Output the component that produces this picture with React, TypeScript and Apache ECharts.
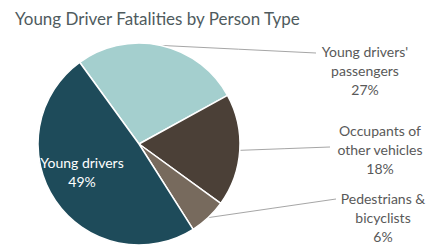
import React, { useEffect, useRef } from "react";
import * as echarts from "echarts";

const categories = [
  "Young drivers' passengers",
  "Occupants of other vehicles",
  "Pedestrians & bicyclists",
  "Young drivers",
];
const labelTexts = [
  "Young drivers'\npassengers",
  "Occupants of\nother vehicles",
  "Pedestrians &\nbicyclists",
  "Young drivers",
];
const percentages = [27, 18, 6, 49];
const colors = ["#a4cfce", "#4b4037", "#776a5d", "#1e4b5a"];

// label layout (centre of label block, end of leader line)
const labelPos: { x: number; y: number; lx?: number; ly?: number }[] = [
  { x: 365, y: 70, lx: 316, ly: 53 },
  { x: 380, y: 149, lx: 330, ly: 147 },
  { x: 383, y: 217, lx: 336, ly: 199 },
  { x: 82, y: 172 },
];

export default function App() {
  const ref = useRef<HTMLDivElement>(null);
  useEffect(() => {
    document.body.style.margin = "0";
    if (!ref.current) return;
    const chart = echarts.init(ref.current, undefined, { renderer: "svg" });
    const data = categories.map((name, i) => {
      const inside = i === 3;
      return {
        name,
        value: percentages[i],
        itemStyle: { color: colors[i] },
        label: inside
          ? { position: "inside", color: "#ffffff" }
          : { position: "outside", color: "#595959" },
        labelLine: { show: !inside },
      };
    });
    chart.setOption({
      animation: false,
      title: {
        text: "Young Driver Fatalities by Person Type",
        left: 10,
        top: 5,
        textStyle: {
          fontFamily: "Lato",
          fontSize: 17,
          fontWeight: "normal",
          color: "#4f5b5e",
        },
      },
      series: [
        {
          type: "pie",
          center: [139, 144],
          radius: 101,
          startAngle: 126,
          clockwise: true,
          avoidLabelOverlap: false,
          emphasis: { disabled: true },
          itemStyle: { borderColor: "#ffffff", borderWidth: 1.5 },
          label: {
            show: true,
            fontFamily: "Lato",
            fontSize: 14,
            lineHeight: 19,
            formatter: (p: any) => `${labelTexts[p.dataIndex]}\n${p.value}%`,
          },
          labelLine: {
            show: true,
            lineStyle: { color: "#a6a6a6", width: 1 },
          },
          labelLayout: (params: any) => {
            const p = labelPos[params.dataIndex];
            const res: any = {
              x: p.x,
              y: p.y,
              align: "center",
              verticalAlign: "middle",
            };
            if (p.lx != null && params.labelLinePoints) {
              const p0 = params.labelLinePoints[0];
              res.labelLinePoints = [
                p0,
                [(p0[0] + p.lx) / 2, (p0[1] + (p.ly as number)) / 2],
                [p.lx, p.ly],
              ];
            }
            return res;
          },
          data,
        },
      ],
    });
    return () => chart.dispose();
  }, []);
  return <div ref={ref} style={{ width: 430, height: 247 }} />;
}
